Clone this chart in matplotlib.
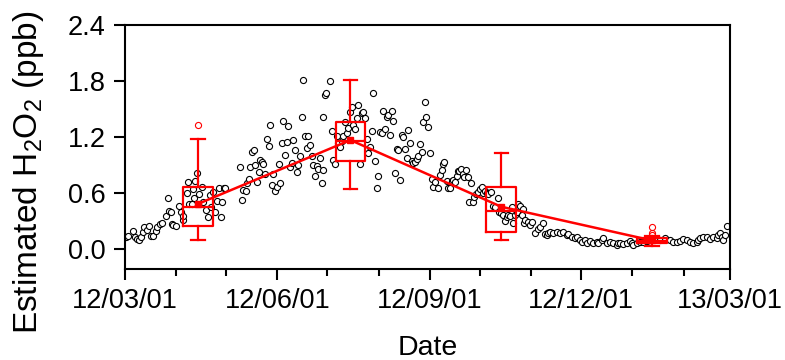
import numpy as np
import matplotlib
matplotlib.use("Agg")
import matplotlib.pyplot as plt
import matplotlib.dates as mdates
from datetime import datetime

plt.rcParams['font.family'] = ['Liberation Sans', 'DejaVu Sans']
plt.rcParams['mathtext.fontset'] = 'custom'
plt.rcParams['mathtext.rm'] = 'Liberation Sans'
plt.rcParams['mathtext.it'] = 'Liberation Sans'

# ---- daily estimated H2O2 (days after 2012-03-01, ppb) ----
spring_days = [0.6, 2, 4.6, 6, 7.4, 8.7, 9.5, 11, 11.5, 13, 14.7, 15.5, 17, 18.7, 19.5, 21, 22.5,
               24.7, 25.7, 26.7, 27.8, 28.2, 29.2, 30.8, 32.4, 33.8, 34.8, 35.2, 37.2, 38.2, 38.8,
               40.2, 40.8, 41.6, 42.4, 43.2, 44.5, 46.3, 47.2, 48.9, 49.9, 51.3, 51.9, 53.3, 54.3,
               55.3, 56.9, 57.7, 58.3, 59.7]
spring_vals = [0.135, 0.142, 0.196, 0.135, 0.11, 0.10, 0.135, 0.188, 0.242, 0.206, 0.249, 0.142, 0.146,
               0.199, 0.242, 0.267, 0.285, 0.356, 0.545, 0.413, 0.402, 0.271, 0.26, 0.252, 0.463, 0.402,
               0.313, 0.356, 0.605, 0.723, 0.484, 0.48, 0.642, 0.545, 0.734, 0.813, 0.591, 0.663, 0.509,
               0.420, 0.349, 0.580, 0.456, 0.616, 0.402, 0.516, 0.652, 0.349, 0.509, 0.652]

early_summer_days = [60.3, 69.4, 70.4, 71.4, 72.8, 73.4, 74.6, 75.6, 76.4, 77.6, 78.6, 79.6, 80.6, 81.4,
                     82.4, 83.5, 84.7, 85.7, 86.7, 87.5, 88.5, 89.5, 90.7, 91.7, 92.7, 93.7, 94.5, 95.5,
                     96.5, 97.5, 98.5, 99.5, 100.5, 101.5, 102.6, 103.6, 104.6, 105.6, 106.6, 107.6,
                     108.6, 109.6, 110.6, 111.6, 112.6, 113.6, 114.6, 115.6, 116.6, 117.6, 118.6, 119.6,
                     119.6]
early_summer_vals = [0.652, 0.883, 0.527, 0.634, 0.627, 0.706, 0.749, 0.877, 1.044, 1.059, 0.902, 0.723,
                     0.830, 0.955, 0.930, 0.909, 0.805, 1.183, 1.105, 1.326, 0.684, 0.805, 0.624, 0.663,
                     0.912, 0.706, 1.133, 1.376, 1.006, 1.151, 1.319, 0.883, 0.926, 1.169, 1.062, 0.830,
                     0.902, 0.998, 1.412, 1.811, 1.212, 1.083, 1.212, 1.112, 1.002, 0.902, 0.784, 0.891,
                     0.855, 0.973, 0.706, 0.848, 1.42]

late_summer_days = [120.6, 121.0, 123.7, 124.7, 125.7, 126.7, 127.7, 128.7, 129.7, 130.7, 131.7, 132.7,
                    133.7, 134.7, 135.7, 136.7, 137.7, 138.7, 139.7, 140.8, 141.8, 142.8, 143.8, 144.8,
                    145.8, 146.8, 147.8, 148.8, 149.8, 150.8, 151.8, 152.8, 153.8, 154.8, 155.8, 156.8,
                    157.9, 158.9, 159.9, 160.9, 161.9, 162.9, 163.9, 164.9, 165.9, 166.9, 167.9, 168.9,
                    169.9, 170.9, 171.9, 172.9, 173.9, 174.9, 176.0, 177.0, 178.0, 179.0, 179.6]
late_summer_vals = [1.650, 1.668, 1.797, 1.269, 0.955, 0.912, 1.212, 1.133, 1.09, 1.162, 1.212, 1.365,
                    1.248, 1.294, 1.472, 1.526, 1.33, 1.283, 1.401, 1.540, 0.912, 1.462, 1.472, 1.408,
                    1.176, 1.033, 1.09, 1.265, 1.676, 0.944, 0.652, 0.784, 1.258, 1.248, 1.483, 1.287,
                    1.412, 1.437, 1.226, 1.483, 1.376, 0.819, 1.069, 1.062, 0.741, 1.219, 1.201, 1.069,
                    0.973, 1.276, 1.141, 0.948, 0.919, 0.937, 0.962, 0.998, 1.126, 1.044, 1.358]

autumn_days = [180.8, 181.8, 182.8, 184.0, 185.0, 186.0, 187.0, 189.0, 190.0, 191.0, 192.0, 192.7,
               194.1, 195.1, 196.1, 197.1, 198.1, 199.1, 200.1, 200.7, 201.7, 202.7, 203.7, 204.7,
               205.7, 207.1, 208.7, 207.8, 209.8, 210.8, 211.8, 213.2, 214.2, 215.2, 216.2, 217.2,
               218.2, 219.2, 220.8, 221.8, 223.2, 224.8, 225.8, 226.8, 228.2, 229.2, 230.2, 231.2,
               232.2, 233.3, 234.3, 235.3, 236.3, 237.3, 238.3, 239.3, 240.3, 240.9]
autumn_vals = [1.580, 1.419, 1.312, 1.033, 0.749, 0.663, 0.723, 0.652, 0.795, 0.848, 0.909, 0.930,
               0.734, 0.652, 0.652, 0.734, 0.741, 0.723, 0.784, 0.841, 0.837, 0.855, 0.802, 0.777,
               0.848, 0.777, 0.713, 0.509, 0.509, 0.563, 0.591, 0.616, 0.642, 0.670, 0.605, 0.624,
               0.598, 0.587, 0.616, 0.463, 0.449, 0.545, 0.402, 0.391, 0.367, 0.306, 0.349, 0.367,
               0.356, 0.456, 0.278, 0.367, 0.402, 0.48, 0.463, 0.367, 0.427, 0.278]

winter_days = [241.3, 243.3, 244.3, 245.3, 247.3, 249.4, 250.4, 252.4, 253.4, 254.4, 255.4, 256.4,
               258.4, 260.4, 262.4, 264.5, 266.5, 267.5, 269.5, 271.5, 272.5, 274.5, 275.5, 277.6,
               278.6, 280.6, 282.6, 284.6, 285.6, 287.6, 288.6, 290.6, 292.6, 294.6, 296.6, 297.6,
               298.7, 300.7, 302.7, 304.7, 305.7, 306.7, 308.7, 310.7, 312.7, 314.7, 316.8, 320.8,
               322.8, 325.8, 328.8, 330.8, 332.8, 334.9, 336.9, 338.9, 340.9, 342.9, 344.9, 345.9,
               346.9, 349.0, 351.0, 353.0, 355.0, 357.0, 358.0, 359.0, 360.0, 361.0, 362.0, 363.0]
winter_vals = [0.313, 0.295, 0.26, 0.295, 0.171, 0.214, 0.242, 0.278, 0.164, 0.153, 0.178, 0.188,
               0.171, 0.188, 0.178, 0.188, 0.150, 0.164, 0.135, 0.117, 0.128, 0.10, 0.081, 0.10,
               0.071, 0.092, 0.071, 0.081, 0.064, 0.10, 0.117, 0.071, 0.081, 0.071, 0.046, 0.064,
               0.064, 0.057, 0.071, 0.092, 0.064, 0.046, 0.064, 0.081, 0.081, 0.092, 0.10, 0.107,
               0.10, 0.117, 0.10, 0.081, 0.081, 0.092, 0.107, 0.10, 0.081, 0.064, 0.081, 0.10,
               0.117, 0.135, 0.128, 0.107, 0.135, 0.117, 0.153, 0.178, 0.135, 0.10, 0.153, 0.249]

# ---- seasonal box statistics ----
season_dates = ['2012-04-14', '2012-07-15', '2012-10-14', '2013-01-13']
box_whislo = [0.10, 0.647, 0.096, 0.035]
box_q1 = [0.245, 0.942, 0.189, 0.070]
box_med = [0.456, 1.160, 0.412, 0.092]
box_q3 = [0.672, 1.365, 0.669, 0.118]
box_whishi = [1.18, 1.813, 1.031, 0.140]
box_mean = [0.486, 1.169, 0.456, 0.095]
box_fliers = [[1.326], [], [], [0.153, 0.178, 0.24]]

start = mdates.date2num(datetime(2012, 3, 1))
days = np.concatenate([spring_days, early_summer_days, late_summer_days, autumn_days, winter_days])
vals = np.concatenate([spring_vals, early_summer_vals, late_summer_vals, autumn_vals, winter_vals])
xdates = start + days

fig = plt.figure(figsize=(7.85, 3.6), dpi=100)
ax = fig.add_axes([125/785, (360-269)/360, (730-125)/785, (269-25)/360])

ax.plot(xdates, vals, linestyle='none', marker='o', ms=4.4, mfc='white', mec='black', mew=0.8, zorder=2)

pos = [mdates.date2num(datetime.strptime(d, '%Y-%m-%d')) for d in season_dates]
stats = []
for i in range(4):
    stats.append(dict(whislo=box_whislo[i], q1=box_q1[i], med=box_med[i], q3=box_q3[i],
                      whishi=box_whishi[i], fliers=box_fliers[i], mean=box_mean[i]))
red = '#ff0000'
ax.bxp(stats, positions=pos, widths=18, capwidths=8, showmeans=False, manage_ticks=False,
       boxprops=dict(color=red, lw=1.6), whiskerprops=dict(color=red, lw=1.6),
       capprops=dict(color=red, lw=1.6), medianprops=dict(color=red, lw=1.6),
       flierprops=dict(marker='o', mfc='none', mec=red, ms=4.4, mew=0.8), zorder=3)
ax.plot(pos, box_mean, color=red, lw=1.8, marker='s', ms=4, zorder=4)

ax.set_xlim(start, mdates.date2num(datetime(2013, 3, 1)))
ax.set_ylim(-0.21, 2.4)
ax.set_yticks([0.0, 0.6, 1.2, 1.8, 2.4])
ax.yaxis.set_major_formatter(matplotlib.ticker.FormatStrFormatter('%.1f'))
ax.xaxis.set_major_locator(mdates.MonthLocator(bymonth=[3, 6, 9, 12]))
ax.xaxis.set_minor_locator(mdates.MonthLocator())
ax.xaxis.set_major_formatter(mdates.DateFormatter('%y/%m/%d'))

for s in ax.spines.values():
    s.set_linewidth(1.5)
ax.tick_params(axis='both', which='major', direction='out', length=8, width=1.5, labelsize=19.5, pad=6)
ax.tick_params(axis='x', which='minor', direction='out', length=5, width=1.5)
ax.tick_params(top=False, right=False, which='both')

ax.set_xlabel('Date', fontsize=20.5, va='center')
ax.xaxis.set_label_coords(0.5, (269 - 348) / 244)
ax.set_ylabel('Estimated H$_2$O$_2$ (ppb)', fontsize=24, va='center')
ax.yaxis.set_label_coords((29 - 125) / 605, (269 - 172.5) / 244)

fig.savefig('out.png', dpi=100)
